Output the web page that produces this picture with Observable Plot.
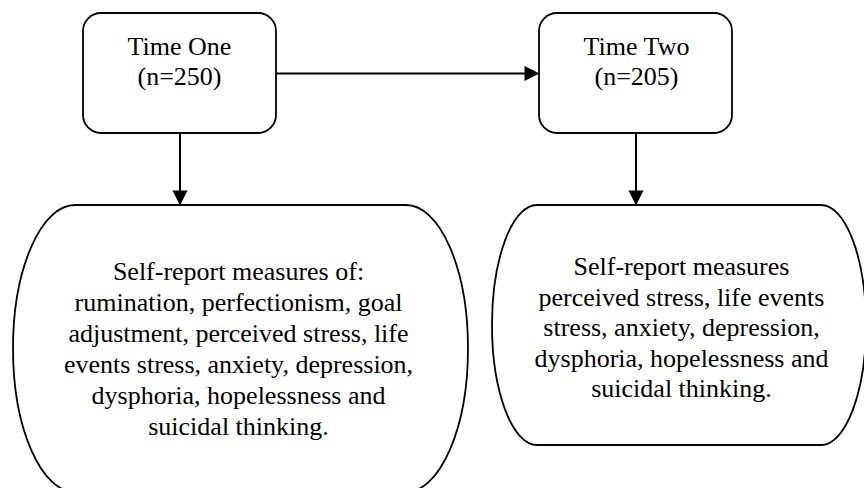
<!DOCTYPE html>
<html>
<head>
<meta charset="utf-8">
<script src="https://cdn.jsdelivr.net/npm/d3@7"></script>
<script src="https://cdn.jsdelivr.net/npm/@observablehq/plot@0.6"></script>
<style>
  html, body { margin: 0; padding: 0; background: #fff; }
  #chart { width: 864px; height: 488px; overflow: hidden; }
</style>
</head>
<body>
<div id="chart"></div>
<script>
// ---- Data ----
const nodeIds = ["t1", "t2", "m1", "m2"];
const nodeLabels = [
  "Time One\n(n=250)",
  "Time Two\n(n=205)",
  "Self-report measures of:\nrumination, perfectionism, goal\nadjustment, perceived stress, life\nevents stress, anxiety, depression,\ndysphoria, hopelessness and\nsuicidal thinking.",
  "Self-report measures\nperceived stress, life events\nstress, anxiety, depression,\ndysphoria, hopelessness and\nsuicidal thinking."
];
const edgeFrom = ["t1", "t1", "t2"];
const edgeTo   = ["t2", "m1", "m2"];

// ---- Layout (diagram geometry, not data) ----
const layout = {
  t1: {x1: 83,  x2: 276, y1: 13,  y2: 133, rx: 18, ry: 18,  tx: 179, ty: 60,  lh: 1.15},
  t2: {x1: 539, x2: 732, y1: 13,  y2: 133, rx: 18, ry: 18,  tx: 636, ty: 60,  lh: 1.15},
  m1: {x1: 13,  x2: 468, y1: 205, y2: 492, rx: 62, ry: 143.5, tx: 238, ty: 347, lh: 1.19},
  m2: {x1: 492, x2: 866, y1: 205, y2: 445, rx: 45, ry: 120, tx: 681, ty: 326, lh: 1.17}
};

const nodes = nodeIds.map((id, i) => ({id, label: nodeLabels[i], ...layout[id]}));
const byId = Object.fromEntries(nodes.map(n => [n.id, n]));

const HEAD = 15;
const edges = edgeFrom.map((f, i) => {
  const a = byId[f], b = byId[edgeTo[i]];
  if (b.y1 >= a.y2) {
    const x = (a.x1 + a.x2) / 2;
    return {x1: x, y1: a.y2, x2: x, y2: b.y1 - HEAD + 1, tipX: x, tipY: b.y1, rot: 0};
  } else {
    const y = (a.y1 + a.y2) / 2;
    return {x1: a.x2, y1: y, x2: b.x1 - HEAD + 1, y2: y, tipX: b.x1, tipY: y, rot: -90};
  }
});

// arrowhead symbol: tip at origin, pointing down
const arrowHead = {
  draw(context) {
    context.moveTo(0, 0);
    context.lineTo(-7.5, -HEAD);
    context.lineTo(7.5, -HEAD);
    context.closePath();
  }
};

const FONT = "'Liberation Serif', 'Times New Roman', Times, serif";

const marks = [
  Plot.rect(nodes, {
    x1: "x1", x2: "x2", y1: "y1", y2: "y2",
    fill: "white", stroke: "black", strokeWidth: 1.8,
    render: (index, scales, values, dims, context, next) => {
      const g = next(index, scales, values, dims, context);
      d3.select(g).selectAll("rect").each(function(d, j) {
        const n = nodes[index[j]];
        this.setAttribute("rx", n.rx);
        this.setAttribute("ry", n.ry);
      });
      return g;
    }
  }),
  Plot.link(edges, {x1: "x1", y1: "y1", x2: "x2", y2: "y2", stroke: "black", strokeWidth: 2}),
  Plot.dot(edges.filter(e => e.rot === 0), {x: "tipX", y: "tipY", symbol: arrowHead, fill: "black", stroke: "none", rotate: 0}),
  Plot.dot(edges.filter(e => e.rot !== 0), {x: "tipX", y: "tipY", symbol: arrowHead, fill: "black", stroke: "none", rotate: -90})
];
for (const n of nodes) {
  marks.push(Plot.text([n], {
    x: "tx", y: "ty", text: "label",
    fontSize: 26, fontFamily: FONT, lineHeight: n.lh,
    fill: "black", textAnchor: "middle"
  }));
}

const chart = Plot.plot({
  width: 864,
  height: 488,
  margin: 0,
  x: {domain: [0, 864], range: [0, 864], axis: null},
  y: {domain: [0, 488], range: [0, 488], axis: null},
  style: {background: "white", fontFamily: FONT},
  marks
});
document.getElementById("chart").appendChild(chart);
</script>
</body>
</html>
